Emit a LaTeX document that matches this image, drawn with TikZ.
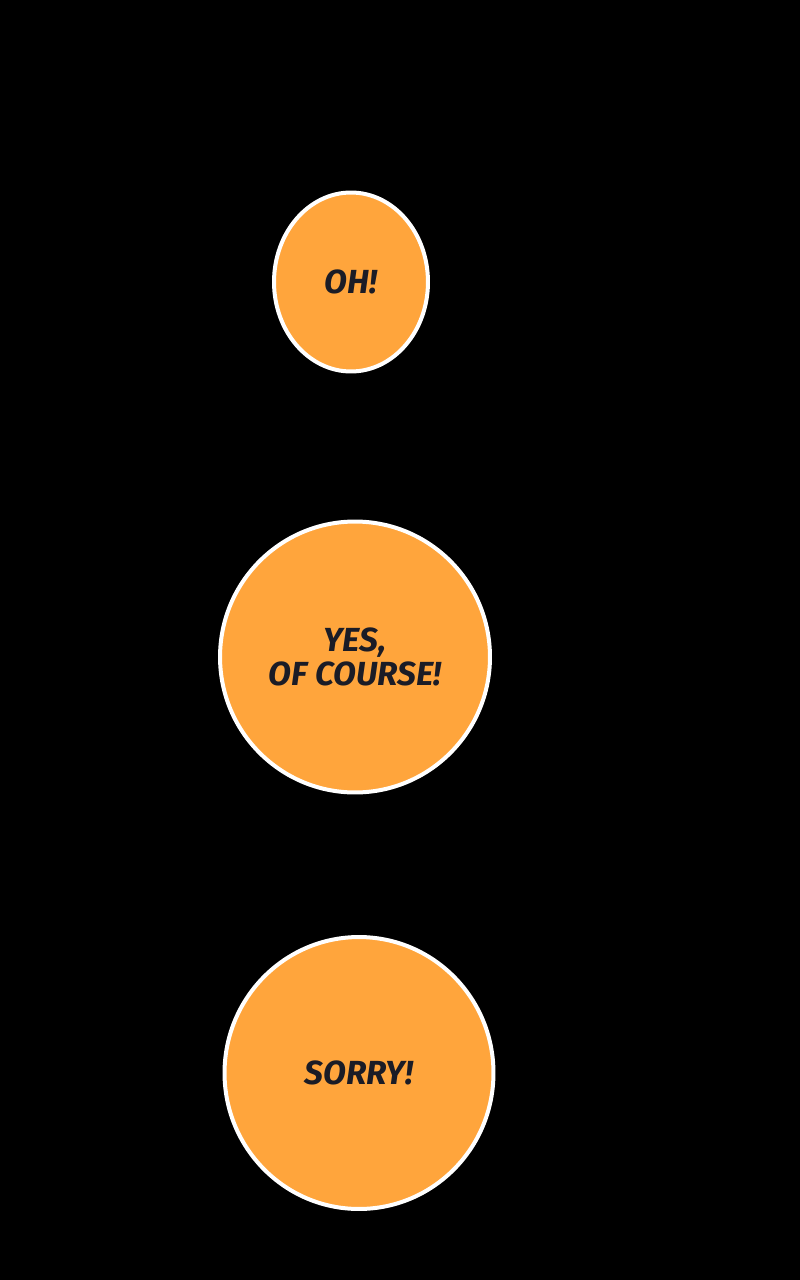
\documentclass[tikz,border=0pt]{standalone}
\usepackage{fontspec}
\setmainfont{Fira Sans}
\usetikzlibrary{shapes.geometric}
\definecolor{bubbleorange}{HTML}{FFA53C}
\definecolor{inkdark}{HTML}{1B1C26}
\begin{document}
\begin{tikzpicture}[x=0.02cm, y=-0.02cm,
    bubble/.style={ellipse, draw=white, line width=0.08cm, fill=bubbleorange, inner sep=0pt,
      text=inkdark, align=center, font=\fontsize{19}{19.5}\selectfont\bfseries\itshape}]
  \fill[black] (0,0) rectangle (800,1280);
  \useasboundingbox (0,0) rectangle (800,1280);
  \node[bubble, minimum width=3.08cm, minimum height=3.58cm] (oh) at (351,282) {OH!};
  \node[bubble, minimum width=5.40cm, minimum height=5.42cm] (yes) at (355,657) {YES,\\OF COURSE!}; % two lines
  \node[bubble, minimum width=5.38cm, minimum height=5.44cm] (sorry) at (359,1073) {SORRY!};
\end{tikzpicture}
\end{document}
